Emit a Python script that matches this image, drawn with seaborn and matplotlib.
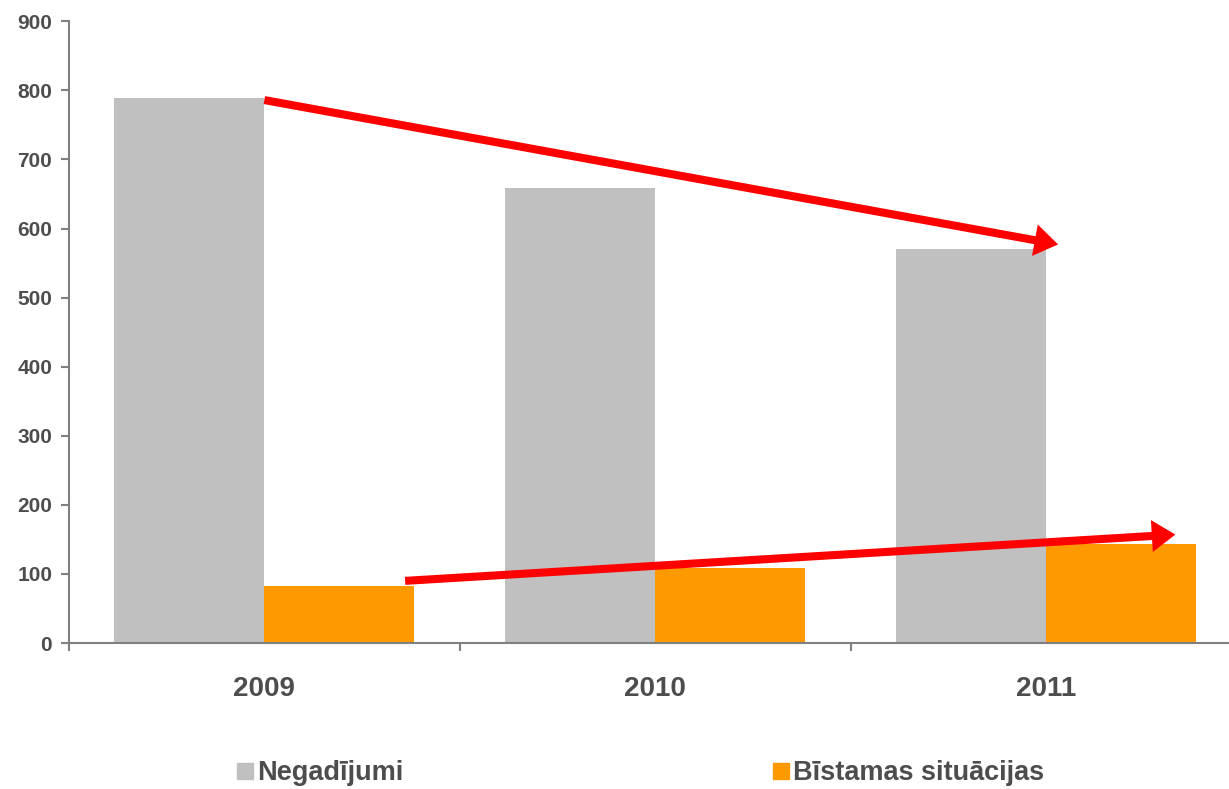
import matplotlib
matplotlib.use("Agg")
import matplotlib.pyplot as plt
import pandas as pd
import seaborn as sns
from matplotlib.lines import Line2D

years = ["2009", "2010", "2011"]
negadijumi = [789, 658, 570]
bistamas = [83, 109, 144]
series_names = ["Negadījumi", "Bīstamas situācijas"]
colors = ["#c0c0c0", "#ff9900"]

# trend arrows (start, end) in data coordinates
arrow_down = [(0.0, 786), (2.03, 577)]
arrow_up = [(0.36, 90), (2.33, 157)]


def main():
    sns.set_style("white")
    plt.rcParams["font.family"] = ["Liberation Sans", "DejaVu Sans"]
    plt.rcParams["font.weight"] = "bold"

    data = pd.DataFrame({
        "year": years * 2,
        "value": negadijumi + bistamas,
        "series": [series_names[0]] * 3 + [series_names[1]] * 3,
    })

    fig = plt.figure(figsize=(12.29, 7.89), dpi=100)
    ax = fig.add_axes([0.056, 0.185, 0.944, 0.788])

    sns.barplot(data=data, x="year", y="value", hue="series", palette=colors,
                width=0.767, gap=0, saturation=1, linewidth=0, legend=False, ax=ax)

    ax.set_yticks(range(0, 901, 100))
    ax.set_xticks([-0.5, 0.5, 1.5], minor=True)
    ax.set_xlim(-0.5, 2.467)
    ax.set_ylim(0, 900)
    ax.set_xlabel("")
    ax.set_ylabel("")

    for side in ["top", "right"]:
        ax.spines[side].set_visible(False)
    for side in ["left", "bottom"]:
        ax.spines[side].set_color("#808080")
        ax.spines[side].set_linewidth(1.5)

    ax.tick_params(axis="y", which="major", direction="out", length=6, width=1.5,
                   color="#808080", labelsize=15, labelcolor="#4d4d4d", pad=6, left=True)
    ax.tick_params(axis="x", which="major", length=0, labelsize=20,
                   labelcolor="#4d4d4d", pad=24)
    ax.tick_params(axis="x", which="minor", direction="out", length=6, width=1.5,
                   color="#808080", bottom=True)

    for start, end in [arrow_down, arrow_up]:
        ax.annotate("", xy=end, xytext=start,
                    arrowprops=dict(arrowstyle="simple,head_length=1.7,head_width=2.3,tail_width=0.58",
                                    mutation_scale=10, lw=0, color="#ff0000",
                                    shrinkA=0, shrinkB=0))

    handles = [Line2D([], [], marker="s", linestyle="", markersize=12,
                      markerfacecolor=c, markeredgecolor=c) for c in colors]
    fig.legend(handles, series_names, loc="center", bbox_to_anchor=(0.52, 0.02),
               ncol=2, frameon=False, columnspacing=13.55, handletextpad=0.05,
               handlelength=0.8, prop={"size": 19.5, "weight": "bold"},
               labelcolor="#4d4d4d")

    fig.savefig("out.png", dpi=100)


main()
